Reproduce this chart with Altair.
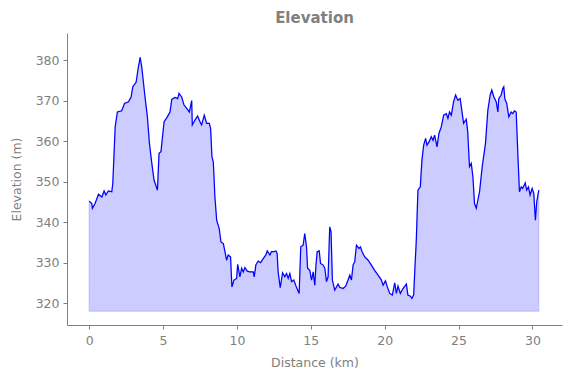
import altair as alt
import pandas as pd

dist = [0.0, 0.18, 0.22, 0.4, 0.63, 0.86, 1.01, 1.13, 1.3, 1.53, 1.6, 1.76, 1.91, 2.2, 2.39, 2.66, 2.84, 2.95, 3.18, 3.33,
        3.45, 3.56, 3.78, 3.94, 4.08, 4.24, 4.39, 4.62, 4.73, 4.86, 5.07, 5.29, 5.47, 5.59, 5.81, 5.99, 6.08, 6.26, 6.42, 6.6,
        6.78, 6.94, 6.98, 7.16, 7.34, 7.5, 7.61, 7.79, 7.95, 8.13, 8.22, 8.31, 8.4, 8.45, 8.51, 8.63, 8.8, 8.92, 9.08, 9.19,
        9.3, 9.41, 9.57, 9.66, 9.8, 9.98, 10.05, 10.2, 10.32, 10.43, 10.54, 10.7, 10.88, 11.1, 11.17, 11.28, 11.44, 11.6, 11.78, 11.96,
        12.05, 12.23, 12.34, 12.5, 12.64, 12.72, 12.79, 12.93, 13.09, 13.24, 13.36, 13.47, 13.58, 13.7, 13.85, 14.03, 14.21, 14.32, 14.48, 14.59,
        14.71, 14.78, 14.93, 15.05, 15.16, 15.27, 15.34, 15.43, 15.57, 15.66, 15.84, 15.95, 16.06, 16.17, 16.28, 16.37, 16.46, 16.62, 16.84, 16.96,
        17.18, 17.36, 17.52, 17.64, 17.75, 17.86, 17.97, 18.09, 18.26, 18.36, 18.47, 18.65, 18.88, 19.1, 19.32, 19.55, 19.78, 19.89, 20.05, 20.18,
        20.34, 20.52, 20.68, 20.79, 20.9, 21.06, 21.24, 21.47, 21.57, 21.74, 21.84, 21.96, 22.05, 22.14, 22.25, 22.41, 22.52, 22.64, 22.77, 22.86,
        23.0, 23.15, 23.27, 23.38, 23.54, 23.67, 23.83, 23.99, 24.17, 24.28, 24.39, 24.51, 24.66, 24.8, 24.95, 25.11, 25.25, 25.34, 25.52, 25.62,
        25.74, 25.86, 25.97, 26.08, 26.2, 26.33, 26.42, 26.6, 26.82, 26.98, 27.14, 27.25, 27.39, 27.55, 27.66, 27.72, 27.88, 27.99, 28.06, 28.13,
        28.26, 28.4, 28.56, 28.67, 28.78, 28.9, 29.01, 29.12, 29.24, 29.34, 29.51, 29.61, 29.73, 29.84, 29.98, 30.09, 30.2, 30.29, 30.43]

elev = [345.2, 344.6, 343.4, 344.6, 346.9, 346.2, 347.7, 346.7, 347.7, 347.5, 349.6, 363.5, 367.2, 367.5, 369.3, 369.7, 370.9, 373.4, 374.6, 378.3,
        380.7, 378.3, 370.9, 366.0, 359.4, 354.5, 350.4, 347.9, 357.0, 357.4, 364.8, 366.0, 367.2, 370.3, 370.8, 370.5, 371.8, 370.9, 368.9, 368.1,
        367.2, 370.0, 364.0, 365.2, 366.2, 364.8, 364.0, 366.4, 364.4, 364.4, 363.1, 356.1, 354.9, 351.2, 346.2, 340.5, 338.4, 335.1, 334.7, 332.7,
        330.6, 331.9, 331.4, 324.0, 325.7, 326.1, 329.6, 326.5, 328.6, 327.7, 328.8, 327.9, 327.7, 327.7, 326.5, 329.4, 330.4, 330.0, 331.0, 331.9,
        332.9, 331.9, 332.7, 332.7, 332.9, 332.3, 327.7, 323.8, 327.5, 326.5, 327.3, 326.1, 327.3, 325.3, 325.7, 323.9, 322.4, 333.9, 334.3, 337.2,
        333.9, 328.6, 328.1, 325.7, 327.7, 324.4, 329.0, 332.7, 332.9, 329.8, 329.4, 328.6, 325.3, 326.5, 338.8, 337.6, 325.7, 323.2, 324.7, 323.9,
        323.6, 324.2, 325.7, 326.9, 325.7, 329.4, 330.2, 334.3, 333.5, 333.9, 332.7, 331.4, 330.6, 329.4, 328.1, 326.9, 325.7, 324.4, 325.5, 324.0,
        322.4, 322.0, 325.0, 322.4, 324.2, 322.4, 323.6, 324.7, 322.0, 321.7, 321.2, 322.0, 329.0, 335.6, 347.9, 348.7, 355.3, 359.0, 360.7, 359.0,
        359.8, 361.1, 360.2, 361.5, 358.6, 361.9, 363.5, 366.4, 366.8, 365.6, 367.2, 366.4, 369.7, 371.4, 370.1, 370.5, 366.8, 364.4, 365.4, 362.3,
        353.7, 354.5, 351.2, 344.6, 343.4, 345.9, 347.5, 353.7, 359.4, 367.6, 371.4, 372.6, 370.9, 369.7, 367.2, 370.5, 371.4, 373.0, 373.4, 370.5,
        369.3, 366.0, 367.2, 366.8, 367.5, 367.2, 357.0, 347.5, 348.7, 348.3, 349.7, 347.9, 348.7, 346.7, 348.3, 347.1, 340.5, 345.0, 347.9]

baseline = 318.0
x_ticks = [0, 5, 10, 15, 20, 25, 30]
y_ticks = [320, 330, 340, 350, 360, 370, 380]

df = pd.DataFrame({"dist": dist, "elev": elev})
df["base"] = baseline

gray = "#808080"
xs = alt.Scale(domain=[-1.5, 32.0], nice=False, zero=False)
ys = alt.Scale(domain=[314.6, 386.7], nice=False, zero=False)

base = alt.Chart(df)

area = base.mark_area(color="blue", fillOpacity=0.2, stroke="blue", strokeOpacity=0.12, strokeWidth=1.5).encode(
    x=alt.X("dist:Q", scale=xs, axis=alt.Axis(values=x_ticks, title="Distance (km)", labelPadding=5, titlePadding=10)),
    y=alt.Y("elev:Q", scale=ys, axis=alt.Axis(values=y_ticks, title="Elevation (m)", labelPadding=4, titlePadding=12)),
    y2="base:Q",
)

line = base.mark_line(color="blue", strokeWidth=1.2).encode(
    x=alt.X("dist:Q", scale=xs),
    y=alt.Y("elev:Q", scale=ys),
)

chart = (area + line).properties(
    width=495,
    height=292,
    autosize="none",
    padding={"left": 67, "top": 33, "right": 9, "bottom": 53},
    title=alt.TitleParams("Elevation", font="DejaVu Sans", fontSize=15, fontWeight="bold", color=gray, offset=7),
).configure_view(stroke=None).configure_axis(
    grid=False,
    domainColor=gray,
    domainWidth=1,
    tickColor=gray,
    tickSize=4,
    labelColor=gray,
    titleColor=gray,
    labelFont="DejaVu Sans",
    titleFont="DejaVu Sans",
    labelFontSize=12.5,
    titleFontSize=12.5,
    titleFontWeight="normal",
)

chart.save("out.html", embed_options={"renderer": "svg", "actions": False})
